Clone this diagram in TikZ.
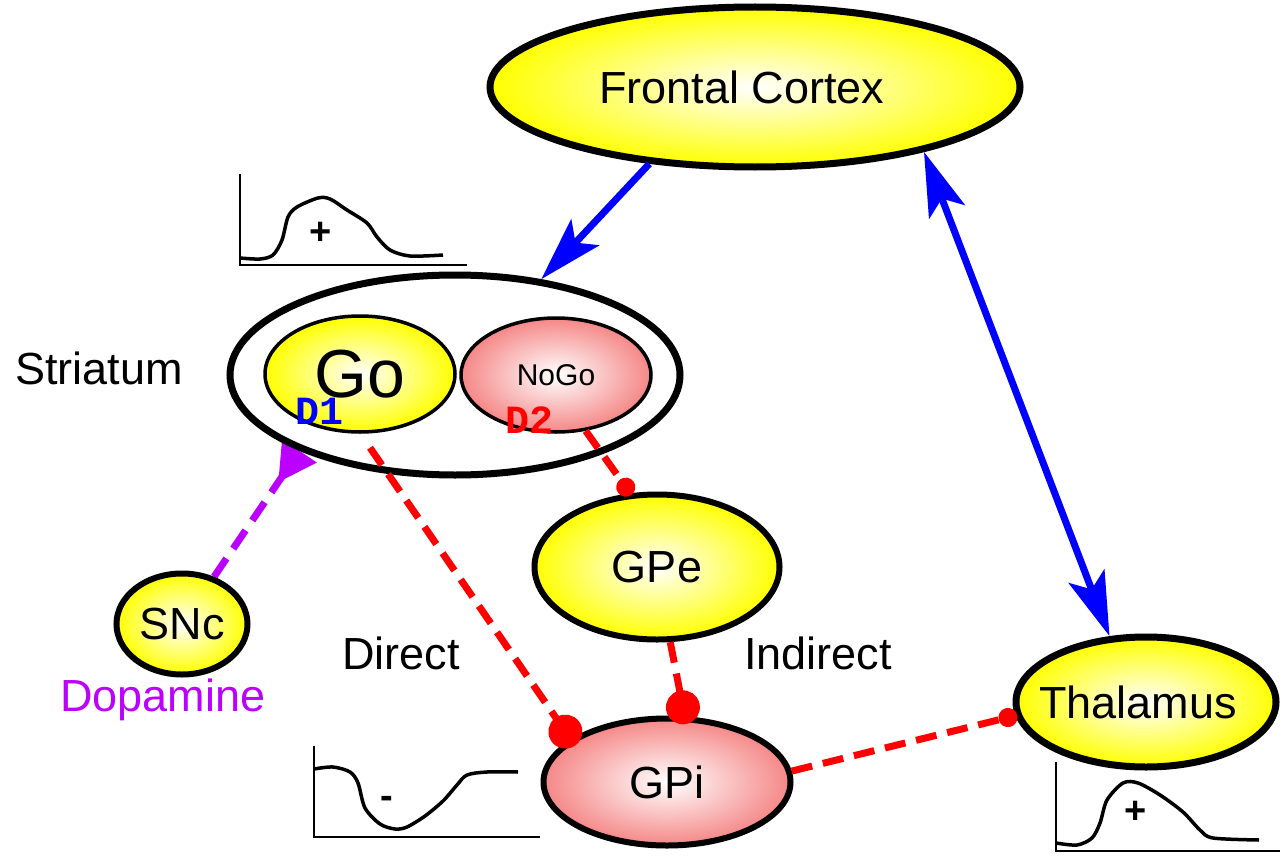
\documentclass[tikz,border=0pt]{standalone}
\usepackage{fontspec}
\setmainfont{Liberation Sans}
\setmonofont{Liberation Mono}
\usetikzlibrary{shapes.geometric, arrows.meta, backgrounds}

\definecolor{nucyellow}{RGB}{255,255,0}
\definecolor{nucpink}{RGB}{245,135,135}
\definecolor{inhred}{RGB}{255,0,0}
\definecolor{excblue}{RGB}{0,0,255}
\definecolor{dapurple}{RGB}{187,0,255}

\tikzset{
    nucleus/.style={ellipse, draw=black, line width=6pt, inner color=white, outer color=nucyellow},
    pinknucleus/.style={ellipse, draw=black, line width=6pt, inner color=white, outer color=nucpink},
    receptor/.style={font=\fontsize{40}{48}\selectfont\ttfamily\bfseries},
    bluetip/.tip={Stealth[length=64pt, width=38pt, inset=14pt]},
    excite/.style={draw=excblue, line width=7pt},
    inhib/.style={draw=inhred, line width=7pt, dash pattern=on 21pt off 11pt},
    bigdot/.style={inhib, -{Circle[length=34pt, width=34pt]}, shorten >=-8pt},
    smalldot/.style={inhib, -{Circle[length=19pt, width=19pt]}, shorten >=-2pt},
    dopa/.style={draw=dapurple, line width=7pt, dash pattern=on 22pt off 12pt,
        -{Triangle[reversed, length=38pt, width=40pt]}},
    axisline/.style={line width=2.5pt},
    trace/.style={line width=3.5pt, smooth}
}

\begin{document}
\begin{tikzpicture}[x=1pt, y=-1pt,
    every node/.style={inner sep=0pt, font=\fontsize{45}{54}\selectfont}]
    \useasboundingbox (0,0) rectangle (1280,867);

    % nuclei
    \node[nucleus, line width=7pt, minimum width=530pt, minimum height=160pt] (frontal) at (755,87) {Frontal Cortex\hspace*{26pt}};
    \node[ellipse, draw, line width=7pt, fill=white, minimum width=450pt, minimum height=200pt] (striatum) at (455,375) {};
    \node[nucleus, line width=3.5pt, minimum width=190pt, minimum height=116pt, font=\fontsize{68}{80}\selectfont] (go) at (360,374) {Go};
    \node[pinknucleus, line width=3.5pt, minimum width=190pt, minimum height=114pt, font=\fontsize{30}{36}\selectfont] (nogo) at (556,375) {NoGo};
    \node[receptor, text=excblue] (done) at (320,411) {D1};
    \node[receptor, text=inhred] (dtwo) at (529,420) {D2};
    \node (striatumtext) at (99,368) {Striatum};
    \node[nucleus, minimum width=245pt, minimum height=145pt] (gpe) at (657,567) {GPe};
    \node[nucleus, minimum width=131pt, minimum height=101pt] (snc) at (182,624) {SNc};
    \node[text=dapurple] (dopamine) at (163,700) {Dopamine};
    \node[pinknucleus, minimum width=247pt, minimum height=127pt] (gpi) at (667,782) {GPi};
    \node[nucleus, line width=7pt, inner xsep=-20pt, minimum width=260pt, minimum height=130pt] (thal) at (1146,702) {Thalamus\hspace*{16pt}};
    \node (direct) at (401,653) {Direct};
    \node (indirect) at (818,653) {Indirect};

    % pathways
    \begin{scope}[on background layer]
        \draw[dopa] (snc) -- (striatum.206);
    \end{scope}
    \draw[excite, -bluetip] (frontal.216) -- (striatum.48);
    \draw[excite, bluetip-bluetip] (frontal.339) -- (thal.119);
    \draw[bigdot] ([shift={(10pt,-14pt)}]go.south) -- (gpi.156);
    \draw[smalldot] (nogo.298) -- (gpe.110);
    \draw[bigdot] (gpe.280) -- (gpi.75);
    \draw[smalldot] (gpi.5) -- (thal.186);

    % firing rates
    \draw[axisline] (240,174) -- (240,265) -- (467,265);
    \draw[trace] plot coordinates {(240,258) (260,259) (273,255) (282,240) (288,217) (297,207)
        (318,198) (330,199) (347,210) (367,223) (377,237) (390,250) (410,256) (443,255)};
    \node[font=\fontsize{38}{44}\selectfont\bfseries] (strplus) at (321,233) {+};

    \draw[axisline] (314,746) -- (314,837) -- (540,837);
    \draw[trace] plot coordinates {(314,769) (333,767) (350,772) (358,783) (365,808) (380,824)
        (395,829) (407,827) (425,816) (443,801) (457,785) (467,775) (487,772) (518,772)};
    \node[font=\fontsize{38}{44}\selectfont\bfseries] (gpiminus) at (387,802) {-};

    \draw[axisline] (1056,762) -- (1056,851) -- (1280,851);
    \draw[trace] plot coordinates {(1056,843) (1077,845) (1092,838) (1100,823) (1107,800) (1123,783)
        (1138,783) (1160,795) (1183,812) (1200,830) (1213,838) (1259,840)};
    \node[font=\fontsize{38}{44}\selectfont\bfseries] (thalplus) at (1136,812) {+};
\end{tikzpicture}
\end{document}
